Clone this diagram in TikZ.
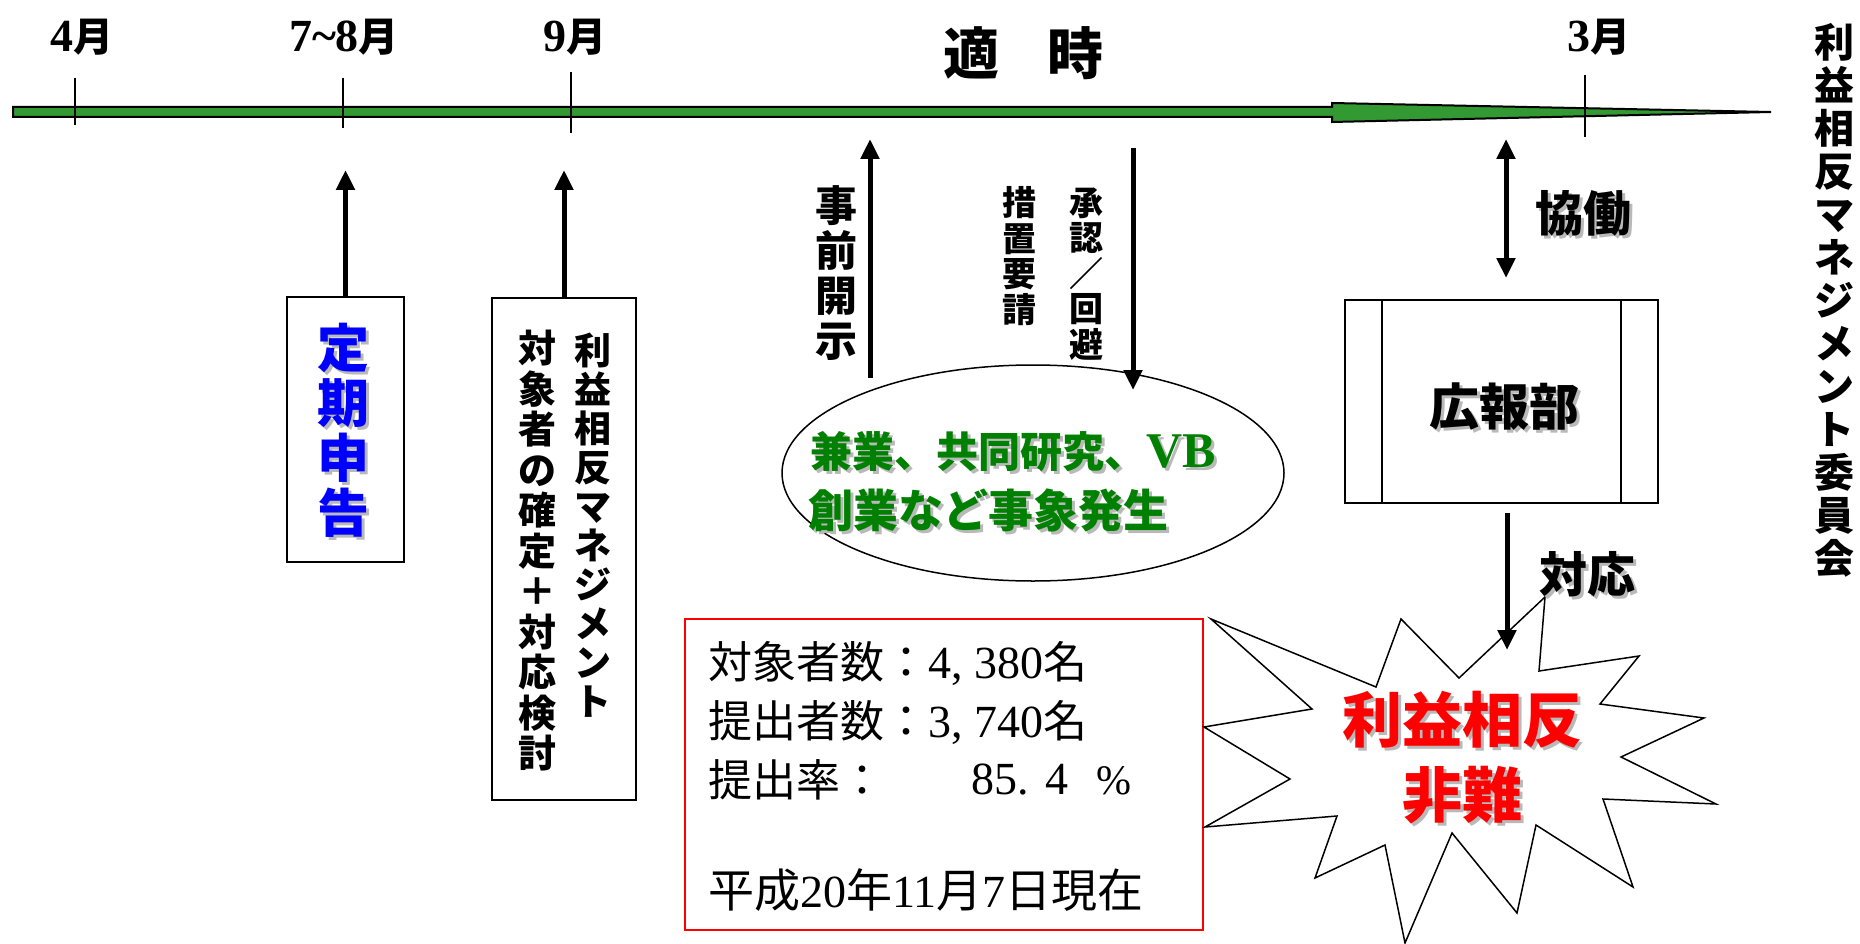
\documentclass[tikz,border=0pt]{standalone}
\usepackage{fontspec}
\setmainfont{Liberation Serif}
\newfontfamily\jp{Noto Sans CJK JP}
\usetikzlibrary{arrows.meta,shapes.geometric}
\definecolor{bargreen}{RGB}{51,153,51}
\definecolor{txtgreen}{RGB}{0,128,0}
\definecolor{shadowgray}{RGB}{185,185,185}
\definecolor{pureblue}{RGB}{0,0,255}
\definecolor{purered}{RGB}{255,0,0}
\newcommand{\fs}[1]{\fontsize{#1}{#1}\selectfont}
\newcommand{\vfs}[2]{\fontsize{#1}{#2}\selectfont}
\newcommand{\shnode}[4]{%
  \node[#3, text=shadowgray] at ([shift={(3,3)}]#2) {#4};
  \node[#3] (#1) at (#2) {#4};
}
\tikzset{
  arr/.style={line width=5pt, -{Triangle[length=20pt,width=18pt]}},
  darr/.style={line width=5pt, {Triangle[length=20pt,width=18pt]}-{Triangle[length=20pt,width=18pt]}},
  tickline/.style={line width=1.5pt},
  boxed/.style={draw, line width=2pt, inner sep=0pt},
  txt/.style={inner sep=0pt},
  vtxt/.style={inner sep=0pt, align=center},
}
\begin{document}
\begin{tikzpicture}[x=1pt,y=-1pt]
\useasboundingbox (0,0) rectangle (1860,944);

% timeline bar
\draw[line width=2pt, fill=bargreen, line join=miter]
  (13,107) -- (1332,107) -- (1332,103) -- (1771,112) -- (1332,122) -- (1332,117) -- (13,117) -- cycle;
% ticks
\draw[tickline] (75,78) -- (75,125);
\draw[tickline] (343,78) -- (343,128);
\draw[tickline] (571,72) -- (571,133);
\draw[tickline] (1585,75) -- (1585,137);

% month labels
\node[txt] (m4) at (82,37) {\bfseries\fs{46}4\jp\fs{40}月};
\node[txt] (m78) at (344,37) {\bfseries\fs{46}7\textasciitilde 8\jp\fs{40}月};
\node[txt] (m9) at (575,37) {\bfseries\fs{46}9\jp\fs{40}月};
\node[txt] (tekiji) at (1023,53) {\jp\bfseries\fs{56}適\hspace{48pt}時};
\node[txt] (m3) at (1599,37) {\bfseries\fs{46}3\jp\fs{40}月};

% committee (right column)
\node[vtxt, font={\jp\bfseries\vfs{40}{43}}] (iinkai) at (1834,300)
  {利\\益\\相\\反\\マ\\ネ\\ジ\\メ\\ン\\ト\\委\\員\\会};

% box 1: teiki shinkoku
\node[boxed, minimum width=117pt, minimum height=265pt] (teiki) at (345.5,429.5) {};
\shnode{teikiT}{343,430}{vtxt, font={\jp\bfseries\vfs{52}{55}}, text=pureblue}{定\\期\\申\\告}
\coordinate (teikiTip) at (345.5,170);
\draw[arr] (teiki.north) -- (teikiTip);

% box 2
\node[boxed, minimum width=144pt, minimum height=502pt] (rieki) at (564,549) {};
\node[vtxt, font={\jp\bfseries\vfs{37}{39}}] (riekiR) at (593,525)
  {利\\益\\相\\反\\マ\\ネ\\ジ\\メ\\ン\\ト};
\node[vtxt, font={\jp\bfseries\vfs{38}{40.5}}] (riekiL) at (537,551)
  {対\\象\\者\\の\\確\\定\\＋\\対\\応\\検\\討};
\coordinate (riekiTip) at (564,170);
\draw[arr] (rieki.north) -- (riekiTip);

% event ellipse
\node[draw, ellipse, line width=1.5pt, minimum width=502pt, minimum height=216pt, inner sep=0pt] (event) at (1033,473) {};
\shnode{ev1}{810,452}{txt, anchor=west, text=txtgreen, font={\jp\bfseries}}{\fs{42}兼業、共同研究、\rmfamily\fs{50}VB}
\shnode{ev2}{808,510}{txt, anchor=west, text=txtgreen, font={\jp\bfseries}}{\fs{45}創業など事象発生}

% jizen kaiji
\node[vtxt, font={\jp\bfseries\vfs{42}{45}}] (jizen) at (836,273) {事\\前\\開\\示};
\coordinate (jizenFrom) at (870,378);
\coordinate (jizenTo) at (870,139);
\draw[arr] (jizenFrom) -- (jizenTo);

% sochi yosei / shonin kaihi
\node[vtxt, font={\jp\bfseries\vfs{34}{35.5}}] (sochi) at (1019,256) {措\\置\\要\\請};
\node[vtxt, font={\jp\bfseries\vfs{34}{35.5}}] (shonin) at (1086,274) {承\\認\\／\\回\\避};
\coordinate (shoninFrom) at (1133,148);
\coordinate (shoninTo) at (1133,390);
\draw[arr] (shoninFrom) -- (shoninTo);

% kyodo
\coordinate (kyodoTop) at (1506,139);
\coordinate (kyodoBot) at (1506,278);
\draw[darr] (kyodoTop) -- (kyodoBot);
\shnode{kyodo}{1583,213}{txt, font={\jp\bfseries\fs{48}}}{協働}

% kohobu box
\node[boxed, minimum width=313pt, minimum height=203pt] (koho) at (1501.5,401.5) {};
\draw[line width=1.5pt] ([xshift=38pt]koho.north west) -- ([xshift=38pt]koho.south west);
\draw[line width=1.5pt] ([xshift=-38pt]koho.north east) -- ([xshift=-38pt]koho.south east);
\shnode{kohoT}{1504,407}{txt, font={\jp\bfseries\fs{50}}}{広報部}

% red statistics box
\node[draw=purered, line width=2pt, minimum width=518pt, minimum height=311pt, inner sep=0pt] (stats) at (944,774.5) {};
\node[txt, anchor=west] (s1) at (708,663) {\jp\fs{44}対象者数：\rmfamily\fs{46}4, 380\jp\fs{44}名};
\node[txt, anchor=west] (s2) at (708,722) {\jp\fs{44}提出者数：\rmfamily\fs{46}3, 740\jp\fs{44}名};
\node[txt, anchor=west] (s3) at (708,780) {\jp\fs{44}提出率：};
\node[txt, anchor=west] (s3b) at (971,780) {\fs{46}85.\hspace{17pt}4\hspace{28pt}\fs{42}\%};
\node[txt, anchor=west] (s4) at (708,890) {\jp\fs{46}平成\rmfamily 20\jp 年\rmfamily 11\jp 月\rmfamily 7\jp 日現在};

% explosion
\draw[line width=1.5pt, fill=white, line join=miter]
  (1211,619) -- (1376,687) -- (1401,619) -- (1459,678) -- (1545,597) -- (1539,671)
  -- (1639,656) -- (1600,704) -- (1704,718) -- (1621,757) -- (1716,804) -- (1603,799)
  -- (1633,887) -- (1536,825) -- (1517,913) -- (1452,833) -- (1405,943) -- (1385,845)
  -- (1315,878) -- (1337,816) -- (1205,827) -- (1290,779) -- (1204,727) -- (1312,709) -- cycle;
\shnode{hinan1}{1462,720}{txt, font={\jp\bfseries\fs{60}}, text=purered}{利益相反}
\shnode{hinan2}{1462,795}{txt, font={\jp\bfseries\fs{60}}, text=purered}{非難}

% taio
\coordinate (taioFrom) at (1507,513);
\coordinate (taioTo) at (1507,650);
\draw[arr] (taioFrom) -- (taioTo);
\shnode{taio}{1587,574}{txt, font={\jp\bfseries\fs{48}}}{対応}
\end{tikzpicture}
\end{document}
